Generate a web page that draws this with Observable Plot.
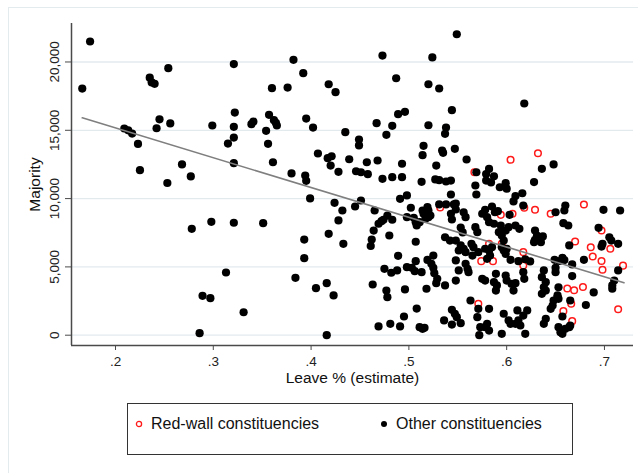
<!DOCTYPE html>
<html>
<head>
<meta charset="utf-8">
<script src="https://cdn.jsdelivr.net/npm/d3@7"></script>
<script src="https://cdn.jsdelivr.net/npm/@observablehq/plot@0.6"></script>
<style>
  body { margin: 0; background: #fff; font-family: "Liberation Sans", Arial, sans-serif; }
  #wrap { position: relative; width: 638px; height: 473px; overflow: hidden; background: #fff; }
  #outline { position: absolute; left: 8px; top: 7px; width: 700px; height: 520px; border-left: 1px solid #e3ebee; border-top: 1px solid #e3ebee; }
  #chart { position: absolute; left: 0; top: 0; }
  #legend { position: absolute; left: 127px; top: 403px; width: 446px; height: 52px; border: 1px solid #333; box-sizing: border-box; font-size: 16px; color: #111; }
  .item { position: absolute; display: flex; align-items: center; white-space: nowrap; }
  .item svg { margin-right: 8px; }
</style>
</head>
<body>
<div id="wrap">
  <div id="outline"></div>
  <div id="chart"></div>
  <div id="legend"></div>
</div>
<script>
const xDomain = [0.155, 0.7297];
const yDomain = [-754, 22817];
const xTicks = [0.2, 0.3, 0.4, 0.5, 0.6, 0.7];
const yTicks = [0, 5000, 10000, 15000, 20000];
const xLabel = "Leave % (estimate)";
const yLabel = "Majority";
const seriesNames = ["Red-wall constituencies", "Other constituencies"];

const otherLeave = [
0.174,0.166,0.254,0.235,0.237,0.240,0.321,0.322,0.245,0.256,
0.242,0.209,0.213,0.217,0.223,0.225,0.253,0.268,0.277,0.299,
0.321,0.321,0.315,0.321,0.339,0.341,0.278,0.298,0.321,0.351,
0.313,0.289,0.297,0.331,0.286,0.549,0.382,0.473,0.524,0.392,
0.487,0.360,0.376,0.418,0.425,0.520,0.531,0.357,0.362,0.364,
0.365,0.354,0.395,0.402,0.356,0.361,0.435,0.467,0.483,0.477,
0.489,0.496,0.544,0.520,0.538,0.537,0.449,0.449,0.515,0.514,
0.534,0.535,0.547,0.407,0.417,0.421,0.420,0.428,0.439,0.457,
0.468,0.493,0.528,0.380,0.394,0.395,0.446,0.451,0.458,0.473,
0.483,0.493,0.513,0.527,0.531,0.538,0.543,0.618,0.559,0.648,
0.636,0.628,0.569,0.582,0.579,0.587,0.579,0.584,0.568,0.593,
0.599,0.600,0.399,0.424,0.432,0.428,0.445,0.451,0.465,0.418,
0.433,0.393,0.393,0.384,0.405,0.416,0.423,0.416,0.463,0.477,
0.478,0.496,0.464,0.462,0.461,0.469,0.472,0.474,0.478,0.483,
0.480,0.491,0.498,0.502,0.498,0.505,0.507,0.511,0.508,0.514,
0.519,0.520,0.515,0.520,0.517,0.522,0.531,0.538,0.546,0.543,
0.543,0.544,0.548,0.507,0.489,0.475,0.482,0.488,0.498,0.503,
0.506,0.507,0.513,0.519,0.525,0.523,0.525,0.526,0.529,0.528,
0.518,0.537,0.537,0.542,0.508,0.495,0.491,0.481,0.469,0.511,
0.514,0.516,0.536,0.544,0.547,0.549,0.544,0.553,
0.569,0.609,0.616,0.607,0.617,0.603,0.585,0.578,0.575,0.580,
0.588,0.591,0.650,0.660,0.659,0.699,0.716,0.556,0.558,0.548,
0.568,0.570,0.553,0.555,0.582,0.587,0.594,0.592,0.599,0.602,
0.595,0.597,0.609,0.613,0.629,0.631,0.629,0.637,0.635,0.628,
0.658,0.663,0.694,0.705,0.707,0.714,0.698,0.697,0.664,0.714,
0.679,0.667,0.657,0.654,0.659,0.649,0.650,0.548,0.553,0.556,
0.558,0.551,0.548,0.564,0.566,0.571,0.565,0.580,0.583,0.582,
0.585,0.578,0.595,0.597,0.599,0.600,0.604,0.612,0.619,0.624,
0.558,0.560,0.561,0.548,0.551,0.575,0.578,0.589,0.587,0.590,
0.589,0.599,0.600,0.605,0.609,0.607,0.618,0.617,0.638,0.636,
0.640,0.638,0.640,0.636,0.650,0.653,0.652,0.667,0.689,0.710,
0.708,0.708,0.681,0.665,0.648,0.647,0.645,0.652,0.653,0.657,
0.664,0.660,0.665,0.653,0.655,0.657,0.640,0.638,0.621,0.617,
0.611,0.609,0.614,0.612,0.619,0.595,0.597,0.602,0.604,0.571,
0.570,0.573,0.572,0.582,0.580,0.578,0.582,0.563
];
const otherMajority = [
21500,18050,19550,18850,18500,18400,19850,16300,15800,15500,
15150,15130,15000,14760,14000,12080,11140,12500,11620,15350,
15250,14470,14030,12590,15450,15640,7790,8300,8230,8200,
4590,2880,2710,1680,150,22030,20160,20470,20330,19180,
18810,18080,18130,18370,17790,18370,18060,16130,15740,15550,
15350,14960,15860,15200,14010,12660,14860,15520,15330,14670,
16180,16350,16470,15370,15200,14740,14320,13890,13860,13180,
13520,13350,13640,13300,12960,13100,12420,11960,12880,12660,
12790,12550,12420,11840,11690,11300,12000,11930,11790,11450,
11570,11570,11230,11400,11350,11250,11320,16960,12860,12500,
12180,11210,11930,12170,11800,11630,11320,11180,10960,10830,
11130,10720,10010,9690,9130,8400,9420,9860,9130,7420,
6690,7000,5640,4200,3440,3810,2910,0,3710,3270,
2780,3350,7660,7000,6530,8160,8350,8450,8760,8450,
7300,9980,10230,9330,8640,8590,8270,8270,8030,9130,
9370,9130,8890,8640,8520,8760,9570,9570,9570,10300,
8890,8470,9200,6840,5810,4860,4570,4740,4980,4930,
4690,5420,4610,5510,5830,5230,4930,4540,4130,3810,
3400,3640,7170,6930,1950,1370,640,830,640,590,
470,540,1080,1860,1570,1320,780,880,
10300,10190,10390,9790,9490,8810,9420,9180,8890,8640,
9000,9080,9000,9490,9130,9180,9130,9000,8640,9640,
7910,7540,7880,7520,8270,8160,8030,7540,7660,7910,
7300,6930,8030,7790,7660,7300,6980,7230,6810,6810,
8200,8030,7860,7170,6930,6690,6690,6490,6570,4740,
5520,5180,5670,5430,5500,5520,4930,6930,6570,6330,
6080,6200,5470,6690,6440,6080,5830,5590,5830,6200,
6440,6330,6440,6200,5960,6330,5520,5420,5560,5400,
5230,4860,4610,4000,4740,4130,4000,4490,3880,3640,
3270,4370,4000,3760,3810,3270,4130,4610,4740,4250,
3880,3510,3270,3030,4610,3510,2780,4330,3130,4000,
3640,3400,2210,2540,2540,2170,1930,2910,2660,1370,
590,470,710,590,220,100,1200,830,1810,1440,
1810,830,710,1080,100,100,1570,1080,830,1930,
1320,590,0,1930,830,590,340,2540
];
const redLeave = [0.567,0.604,0.632,0.594,0.606,0.618,0.629,0.645,0.679,0.697,0.670,0.686,0.688,0.706,0.697,0.698,0.719,0.582,0.595,0.617,0.574,0.586,0.617,0.662,0.669,0.678,0.666,0.658,0.667,0.714,0.571,0.532];
const redMajority = [11930,12840,13320,8810,8890,9330,9180,8890,9570,7660,6860,6440,5760,6330,5430,4790,5090,6690,6690,6080,5420,5420,5100,3420,3290,3530,2300,1760,1030,1900,2300,9350];
const fitLeave = [0.166, 0.720];
const fitMajority = [15910, 3840];

const other = otherLeave.map((x, i) => ({x, y: otherMajority[i]}));
const red = redLeave.map((x, i) => ({x, y: redMajority[i]}));
const fit = fitLeave.map((x, i) => ({x, y: fitMajority[i]}));
const font = "'Liberation Sans', Arial, sans-serif";

const chart = Plot.plot({
  width: 638,
  height: 398,
  marginLeft: 71,
  marginRight: 5,
  marginTop: 23,
  marginBottom: 53,
  x: {domain: xDomain},
  y: {domain: yDomain},
  style: {fontFamily: font, background: "transparent", color: "#222"},
  marks: [
    Plot.gridY(yTicks, {stroke: "#e2eaee", strokeOpacity: 1, strokeWidth: 1.3}),
    Plot.ruleX([xDomain[0]], {stroke: "#4a4a4a", strokeWidth: 1.5}),
    Plot.ruleY([yDomain[0]], {stroke: "#4a4a4a", strokeWidth: 1.5}),
    Plot.axisX(xTicks, {tickSize: 5, tickPadding: 6, fontSize: 13.5, stroke: "#4a4a4a", tickFormat: d => d.toFixed(1).replace(/^0/, ""), label: null}),
    Plot.axisY(yTicks, {tickSize: 6, stroke: "#4a4a4a", tickFormat: () => "", label: null}),
    Plot.text(yTicks, {y: d => d, text: d => d3.format(",")(d), frameAnchor: "left", dx: -17, rotate: -90, textAnchor: "middle", fontSize: 13.5, fill: "#222"}),
    Plot.text([yLabel], {text: d => d, frameAnchor: "left", dx: -36, rotate: -90, textAnchor: "middle", fontSize: 15.5, fill: "#111"}),
    Plot.text([xLabel], {text: d => d, frameAnchor: "bottom", dy: 37, textAnchor: "middle", fontSize: 15.5, fill: "#111"}),
    Plot.dot(red, {x: "x", y: "y", r: 3.3, stroke: "#ff1a1a", strokeWidth: 1.5, fill: "none"}),
    Plot.dot(other, {x: "x", y: "y", r: 4.1, fill: "#000", stroke: "none"}),
    Plot.line(fit, {x: "x", y: "y", stroke: "#7f7f7f", strokeWidth: 1.6})
  ]
});
document.getElementById("chart").appendChild(chart);

const legend = document.getElementById("legend");
legend.innerHTML = `
  <div class="item" style="left:7px;top:11px">
    <svg width="8" height="8"><circle cx="4" cy="4" r="2.6" fill="none" stroke="#ff1a1a" stroke-width="1.3"/></svg>
    <span>${seriesNames[0]}</span>
  </div>
  <div class="item" style="left:252px;top:11px">
    <svg width="8" height="8"><circle cx="4" cy="4" r="3" fill="#000"/></svg>
    <span>${seriesNames[1]}</span>
  </div>`;
</script>
</body>
</html>
